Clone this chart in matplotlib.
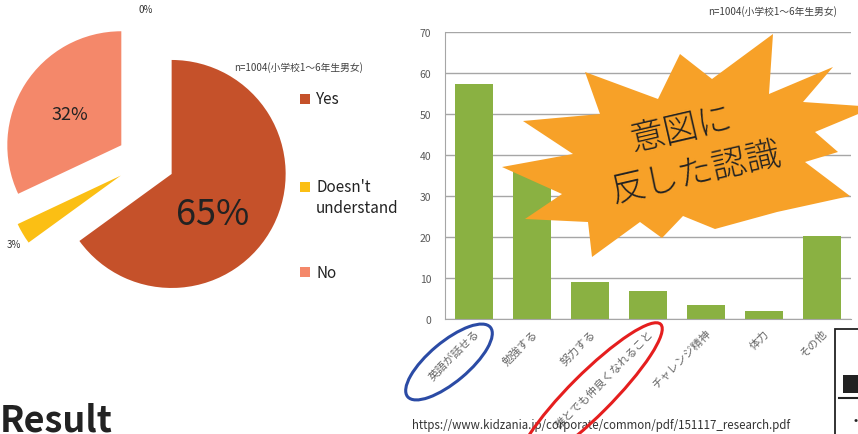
import matplotlib
matplotlib.use('Agg')
import matplotlib.pyplot as plt
from matplotlib.patches import Ellipse, Polygon, Rectangle

plt.rcParams['font.family'] = ['Noto Sans CJK JP', 'DejaVu Sans']

# 円グラフ
pie_labels = ['Yes', "Doesn't\nunderstand", 'No']
pie_values = [65, 3, 32]
pie_colors = ['#C5512A', '#FBBF14', '#F4886A']

# 棒グラフ
bar_labels = ['英語が話せる', '勉強する', '努力する', '誰とでも仲良くなれること',
              'チャレンジ精神', '体力', 'その他']
bar_values = [57.3, 35.8, 9.0, 6.8, 3.4, 1.9, 20.2]
yticks = [0, 10, 20, 30, 40, 50, 60, 70]

note = 'n=1004(小学校1～6年生男女)'
src = 'https://www.kidzania.jp/corporate/common/pdf/151117_research.pdf'

W, H = 858, 435
grey = '#595959'

def P(x, y):
    # ピクセル座標 -> オーバーレイ座標
    return x, H - y

fig = plt.figure(figsize=(W / 100, H / 100), dpi=100)

# --- bar chart ---
ax = fig.add_axes([445 / W, 1 - 320 / H, (851 - 445) / W, (320 - 33) / H])
ax.bar(range(len(bar_values)), bar_values, width=0.655, color='#8AB142', zorder=2)
ax.set_xlim(-0.5, len(bar_values) - 0.5)
ax.set_ylim(0, 70)
ax.set_yticks(yticks)
ax.set_yticklabels([str(v) for v in yticks], fontsize=7.5, color=grey)
ax.set_xticks(range(len(bar_labels)))
ax.set_xticklabels(bar_labels, rotation=45, ha='right', va='top',
                   rotation_mode='anchor', fontsize=8, color='#666666')
ax.tick_params(length=0, pad=10)
ax.tick_params(axis='x', pad=6)
ax.yaxis.grid(True, color='#A6A6A6', lw=1, zorder=0)
for s in ['top', 'right']:
    ax.spines[s].set_visible(False)
ax.spines['left'].set_color('#A6A6A6')
ax.spines['bottom'].set_color('#A6A6A6')

# --- overlay (pie, annotations) ---
ov = fig.add_axes([0, 0, 1, 1])
ov.patch.set_visible(False)
ov.pie(pie_values, colors=pie_colors, startangle=90, counterclock=False,
       explode=[29] * len(pie_values), radius=114, center=P(145.8, 161.8),
       wedgeprops=dict(linewidth=0))
ov.set_xlim(0, W)
ov.set_ylim(0, H)
ov.set_aspect('auto')
ov.axis('off')

ov.text(*P(213, 215), f'{pie_values[0]}%', fontsize=26, color='#222222',
        ha='center', va='center')
ov.text(*P(70, 115), f'{pie_values[2]}%', fontsize=13, color='#222222',
        ha='center', va='center')
ov.text(*P(14, 245), f'{pie_values[1]}%', fontsize=7, color='#333333',
        ha='center', va='center')
ov.text(*P(146, 10), '0%', fontsize=7, color='#333333', ha='center', va='center')

ov.text(*P(234, 68), note, fontsize=7, color='#404040', ha='left', va='center')
leg_y = [100, 188, 273]
for lab, col, yy in zip(pie_labels, pie_colors, leg_y):
    ov.add_patch(Rectangle(P(300, yy + 5), 10, 10, color=col, lw=0))
    if '\n' in lab:
        ov.text(*P(316, yy - 9), lab, fontsize=11, color='#222222', ha='left', va='top',
                linespacing=1.3)
    else:
        ov.text(*P(316, yy), lab, fontsize=11, color='#222222', ha='left', va='center')

ov.text(*P(708, 12), note, fontsize=7, color='#404040', ha='left', va='center')

# starburst
burst = [(585, 73), (658, 100), (680, 55), (712, 80), (773, 35), (769, 95),
         (833, 68), (803, 103), (875, 108), (815, 133), (838, 153), (805, 163),
         (850, 197), (777, 213), (715, 230), (683, 217), (662, 239), (640, 223),
         (592, 258), (588, 223), (525, 220), (562, 195), (502, 168), (573, 155),
         (523, 122), (600, 115)]
ov.add_patch(Polygon([P(x, y) for x, y in burst], closed=True,
                     facecolor='#F7A128', edgecolor='none', zorder=5))
ov.text(*P(681, 130), '意図に', fontsize=25, fontweight='light', color='#222222',
        rotation=13, ha='center', va='center', zorder=6)
ov.text(*P(697, 174), '反した認識', fontsize=25, fontweight='light', color='#222222',
        rotation=13, ha='center', va='center', zorder=6)

# circles
ov.add_patch(Ellipse(P(449, 363), 108, 40, angle=40, fill=False,
                     edgecolor='#2B4BA5', lw=2.2, zorder=6))
ov.add_patch(Ellipse(P(590, 396), 200, 42, angle=45, fill=False,
                     edgecolor='#E51E1E', lw=2.2, zorder=6))

ov.text(*P(412, 426), src, fontsize=8.3, color='#333333', ha='left', va='center')
ov.text(*P(0, 432), 'Result', fontsize=26, fontweight='bold', color='#222222',
        ha='left', va='baseline')

# right-bottom box
ov.add_patch(Rectangle(P(835, 440), 40, 110, fill=False, edgecolor='#222222', lw=1.3))
ov.add_patch(Rectangle(P(843, 394), 30, 18, color='#222222', lw=0))
ov.plot([P(839, 399)[0], W], [P(839, 399)[1]] * 2, color='#222222', lw=1.5)
ov.text(*P(856, 421), '•', fontsize=9, color='#222222', ha='center', va='center')

fig.savefig('out.png', dpi=100)
